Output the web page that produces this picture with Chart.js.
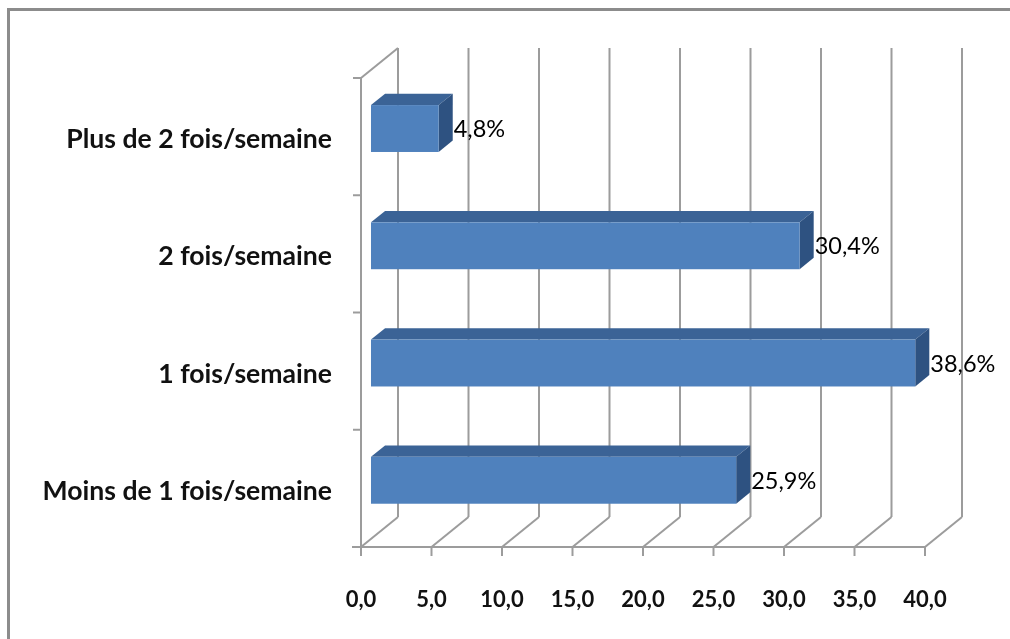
<!DOCTYPE html>
<html>
<head>
<meta charset="utf-8">
<script src="https://cdn.jsdelivr.net/npm/chart.js@4.4.1/dist/chart.umd.min.js"></script>
<style>
  html, body { margin: 0; padding: 0; background: #ffffff; }
  #wrap { width: 1010px; height: 639px; position: relative; }
</style>
</head>
<body>
<div id="wrap"><canvas id="c" width="1010" height="639"></canvas></div>
<script>
// Fréquence déclarée (en % des répondants)
const categories = [
  'Plus de 2 fois/semaine',
  '2 fois/semaine',
  '1 fois/semaine',
  'Moins de 1 fois/semaine'
];
const percentages = [4.8, 30.4, 38.6, 25.9];
const xTickLabels = ['0,0', '5,0', '10,0', '15,0', '20,0', '25,0', '30,0', '35,0', '40,0'];

// 3D look: depth of the floor/walls and where the bars sit inside it
const DEPTH = { dx: 37, dy: -30 };
const BAR_FRONT = 0.27;   // fraction of depth before the bar front face
const BAR_DEPTH = 0.38;   // fraction of depth taken by the bar itself
const GRID_COLOR = '#9c9c9c';
const FACE = { front: '#4f81bd', top: '#3b6396', side: '#2e5281' };
const FONT_FAMILY = 'Lato, "Open Sans", sans-serif';

function line(ctx, x1, y1, x2, y2) {
  ctx.beginPath();
  ctx.moveTo(x1, y1);
  ctx.lineTo(x2, y2);
  ctx.stroke();
}

const frame3d = {
  id: 'frame3d',
  beforeDraw(chart) {
    const { ctx } = chart;
    ctx.save();
    ctx.fillStyle = '#ffffff';
    ctx.fillRect(0, 0, chart.width, chart.height);
    // outer frame of the chart area (left and top edges)
    ctx.strokeStyle = '#8c8c8c';
    ctx.lineWidth = 3;
    ctx.beginPath();
    ctx.moveTo(8.5, chart.height + 5);
    ctx.lineTo(8.5, 9.5);
    ctx.lineTo(chart.width + 5, 9.5);
    ctx.stroke();
    ctx.restore();
  },
  beforeDatasetsDraw(chart) {
    const { ctx, chartArea: a, scales: { x, y } } = chart;
    const { dx, dy } = DEPTH;
    ctx.save();
    ctx.strokeStyle = GRID_COLOR;
    ctx.lineWidth = 2;
    ctx.lineCap = 'butt';
    // back wall gridlines, floor diagonals and tick marks
    x.ticks.forEach(t => {
      const px = x.getPixelForValue(t.value);
      line(ctx, px + dx, a.top + dy, px + dx, a.bottom + dy);
      line(ctx, px, a.bottom, px + dx, a.bottom + dy);
      line(ctx, px, a.bottom, px, a.bottom + 9);
    });
    // side wall edges
    line(ctx, a.left, a.top, a.left, a.bottom);
    line(ctx, a.left, a.top, a.left + dx, a.top + dy);
    // front floor edge
    line(ctx, a.left - 9, a.bottom, a.right, a.bottom);
    // category boundary ticks
    const band = y.getPixelForValue(1) - y.getPixelForValue(0);
    for (let i = 0; i <= categories.length; i++) {
      const yy = y.getPixelForValue(0) - band / 2 + i * band;
      line(ctx, a.left - 8, yy, a.left, yy);
    }
    ctx.restore();
  },
  afterDatasetsDraw(chart) {
    const { ctx } = chart;
    const meta = chart.getDatasetMeta(0);
    const fx = DEPTH.dx * BAR_FRONT, fy = DEPTH.dy * BAR_FRONT;
    const bx = DEPTH.dx * BAR_DEPTH, by = DEPTH.dy * BAR_DEPTH;
    ctx.save();
    meta.data.forEach((el, i) => {
      const p = el.getProps(['x', 'y', 'base', 'height'], true);
      const x0 = Math.min(p.base, p.x) + fx;
      const x1 = Math.max(p.base, p.x) + fx;
      const y0 = p.y - p.height / 2 + fy;
      const y1 = p.y + p.height / 2 + fy;
      // top face
      ctx.fillStyle = FACE.top;
      ctx.beginPath();
      ctx.moveTo(x0, y0); ctx.lineTo(x1, y0);
      ctx.lineTo(x1 + bx, y0 + by); ctx.lineTo(x0 + bx, y0 + by);
      ctx.closePath(); ctx.fill();
      // side face
      ctx.fillStyle = FACE.side;
      ctx.beginPath();
      ctx.moveTo(x1, y0); ctx.lineTo(x1 + bx, y0 + by);
      ctx.lineTo(x1 + bx, y1 + by); ctx.lineTo(x1, y1);
      ctx.closePath(); ctx.fill();
      // front face
      ctx.fillStyle = FACE.front;
      ctx.fillRect(x0, y0, x1 - x0, y1 - y0);
      // value label
      const v = chart.data.datasets[0].data[i];
      ctx.fillStyle = '#000000';
      ctx.font = '23.5px ' + FONT_FAMILY;
      ctx.textAlign = 'left';
      ctx.textBaseline = 'middle';
      ctx.fillText(v.toFixed(1).replace('.', ',') + '%', x1 + bx + 1, p.y + fy + 1);
    });
    ctx.restore();
  }
};

new Chart(document.getElementById('c'), {
  type: 'bar',
  data: {
    labels: categories,
    datasets: [{
      data: percentages,
      backgroundColor: 'rgba(0,0,0,0)',
      borderWidth: 0,
      barPercentage: 0.4,
      categoryPercentage: 1.0
    }]
  },
  options: {
    indexAxis: 'y',
    responsive: false,
    animation: false,
    devicePixelRatio: 1,
    layout: { padding: { top: 78, right: 85, left: 0, bottom: 0 } },
    plugins: { legend: { display: false }, tooltip: { enabled: false } },
    scales: {
      x: {
        min: 0, max: 40,
        grid: { display: false, drawTicks: false },
        border: { display: false },
        ticks: {
          stepSize: 5,
          padding: 40,
          color: '#111111',
          font: { family: FONT_FAMILY, size: 22, weight: 'bold' },
          maxRotation: 0,
          callback: (v, i) => xTickLabels[i]
        },
        afterFit(s) { s.height = 92; }
      },
      y: {
        grid: { display: false, drawTicks: false },
        border: { display: false },
        ticks: {
          padding: 29,
          labelOffset: 3,
          color: '#111111',
          font: { family: FONT_FAMILY, size: 26.6, weight: 'bold' }
        },
        afterFit(s) { s.width = 361; }
      }
    }
  },
  plugins: [frame3d]
});
</script>
</body>
</html>
